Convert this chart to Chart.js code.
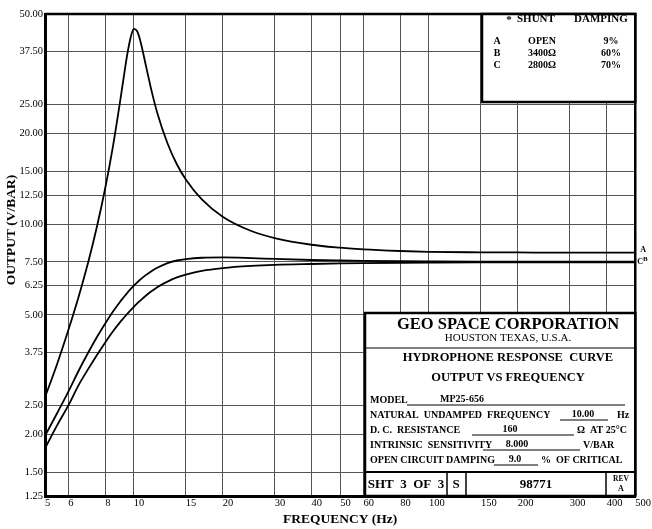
<!DOCTYPE html>
<html>
<head>
<meta charset="utf-8">
<script src="https://cdn.jsdelivr.net/npm/chart.js@4.4.0/dist/chart.umd.min.js"></script>
<style>
  html, body { margin: 0; padding: 0; background: #fff; }
</style>
</head>
<body>
<canvas id="myChart" width="652" height="529"></canvas>
<script>
// Frequencies (Hz) the curves were read at
const freqs = [5, 5.5, 6, 6.5, 7, 7.5, 8, 8.5, 9, 9.25, 9.5, 9.75, 10, 10.25, 10.5, 11, 11.5, 12, 13, 14, 15, 17, 20, 25, 30, 40, 50, 60, 80, 100, 150, 200, 300, 400, 500];

// Output (V/BAR) for each shunt setting
const outputA = [2.66, 3.44, 4.45, 5.74, 7.46, 9.83, 13.2, 18.2, 25.9, 31.0, 36.7, 41.7, 44.6, 43.9, 41.0, 33.5, 27.6, 23.5, 18.6, 15.8, 14.1, 12.1, 10.6, 9.5, 9.0, 8.55, 8.36, 8.25, 8.15, 8.10, 8.07, 8.06, 8.05, 8.05, 8.05];
const outputB = [1.98, 2.36, 2.78, 3.26, 3.74, 4.22, 4.68, 5.13, 5.54, 5.73, 5.92, 6.09, 6.25, 6.40, 6.54, 6.79, 7.00, 7.17, 7.43, 7.58, 7.66, 7.74, 7.76, 7.72, 7.67, 7.61, 7.58, 7.56, 7.54, 7.53, 7.52, 7.52, 7.52, 7.52, 7.52];
const outputC = [1.80, 2.15, 2.50, 2.92, 3.30, 3.68, 4.05, 4.41, 4.74, 4.89, 5.04, 5.18, 5.32, 5.45, 5.57, 5.80, 6.00, 6.18, 6.45, 6.66, 6.80, 7.00, 7.15, 7.27, 7.33, 7.38, 7.41, 7.43, 7.45, 7.46, 7.47, 7.47, 7.47, 7.47, 7.47];

// Tick labels
const xTicks = [5, 6, 8, 10, 15, 20, 30, 40, 50, 60, 80, 100, 150, 200, 300, 400, 500];
const yTicks = [1.25, 1.5, 2, 2.5, 3.75, 5, 6.25, 7.5, 10, 12.5, 15, 20, 25, 37.5, 50];

const serif = 'Liberation Serif';

function toPoints(values) {
    return freqs.map((f, i) => ({ x: f, y: values[i] }));
}

function curve(label, values) {
    return {
        label: label,
        data: toPoints(values),
        borderColor: '#000',
        borderWidth: 1.8,
        pointRadius: 0,
        fill: false,
        cubicInterpolationMode: 'monotone'
    };
}

// Draws the boxes, titles and the title block on top of the plot
const sheetPlugin = {
    id: 'sheet',
    beforeDraw(chart) {
        const c = chart.ctx;
        c.save();
        c.fillStyle = '#fff';
        c.fillRect(0, 0, chart.width, chart.height);
        c.restore();
    },
    afterDraw(chart) {
        const c = chart.ctx;
        const a = chart.chartArea;
        c.save();
        c.fillStyle = '#000';
        c.strokeStyle = '#000';

        // top and right border of plot
        c.lineWidth = 2.5;
        c.beginPath();
        c.moveTo(a.left, a.top);
        c.lineTo(a.right, a.top);
        c.lineTo(a.right, a.bottom);
        c.stroke();

        function text(str, x, y, size, bold, align) {
            c.font = (bold ? 'bold ' : '') + size + 'px "' + serif + '"';
            c.textAlign = align || 'center';
            c.textBaseline = 'middle';
            c.fillText(str, x, y);
        }
        function line(x1, y1, x2, y2, w) {
            c.lineWidth = w;
            c.beginPath();
            c.moveTo(x1, y1);
            c.lineTo(x2, y2);
            c.stroke();
        }
        function box(x1, y1, x2, y2, w) {
            c.fillStyle = '#fff';
            c.fillRect(x1, y1, x2 - x1, y2 - y1);
            c.fillStyle = '#000';
            c.lineWidth = w;
            c.strokeRect(x1, y1, x2 - x1, y2 - y1);
        }

        // axis titles
        text('FREQUENCY (Hz)', (a.left + a.right) / 2, 520, 13.5, true);
        c.save();
        c.translate(12, 230);
        c.rotate(-Math.PI / 2);
        text('OUTPUT (V/BAR)', 0, 0, 13.5, true);
        c.restore();

        // curve end labels
        text('A', a.right + 8, 250, 8, true);
        text('C', a.right + 5, 262, 8, true);
        text('B', a.right + 10, 259, 7, true);

        // shunt / damping legend box
        box(482, a.top, a.right, 102, 2.5);
        text('*', 509, 20, 11, true);
        text('SHUNT', 517, 19, 11, true, 'left');
        text('DAMPING', 574, 19, 11, true, 'left');
        const rows = [['A', 'OPEN', '9%'], ['B', '3400\u03A9', '60%'], ['C', '2800\u03A9', '70%']];
        rows.forEach((r, i) => {
            const y = 41 + i * 12;
            text(r[0], 497, y, 10, true);
            text(r[1], 542, y, 10, true);
            text(r[2], 611, y, 10, true);
        });

        // title block
        box(365, 313, a.right, a.bottom, 2.5);
        text('GEO SPACE CORPORATION', 508, 325, 16.5, true);
        text('HOUSTON TEXAS, U.S.A.', 508, 338, 11, false);
        line(366, 348, a.right, 348, 1);
        text('HYDROPHONE RESPONSE  CURVE', 508, 358, 12.5, true);
        text('OUTPUT VS FREQUENCY', 508, 378, 12.5, true);

        const lx = 370;
        const fs = 10;
        text('MODEL', lx, 400, fs, true, 'left');
        line(407, 405, 625, 405, 1);
        text('MP25-656', 440, 399, fs, true, 'left');

        text('NATURAL  UNDAMPED  FREQUENCY', lx, 415, fs, true, 'left');
        line(560, 420, 608, 420, 1);
        text('10.00', 583, 414, fs, true);
        text('Hz', 617, 415, fs, true, 'left');

        text('D. C.  RESISTANCE', lx, 430, fs, true, 'left');
        line(472, 435, 574, 435, 1);
        text('160', 510, 429, fs, true);
        text('\u03A9  AT 25\u00B0C', 577, 430, fs, true, 'left');

        text('INTRINSIC  SENSITIVITY', lx, 445, fs, true, 'left');
        line(483, 450, 580, 450, 1);
        text('8.000', 517, 444, fs, true);
        text('V/BAR', 583, 445, fs, true, 'left');

        text('OPEN CIRCUIT DAMPING', lx, 460, fs, true, 'left');
        line(494, 465, 538, 465, 1);
        text('9.0', 515, 459, fs, true);
        text('%  OF CRITICAL', 541, 460, fs, true, 'left');

        line(365, 472, a.right, 472, 2);
        line(447, 472, 447, a.bottom, 1.5);
        line(466, 472, 466, a.bottom, 1.5);
        line(606, 472, 606, a.bottom, 1.5);
        text('SHT  3  OF  3', 406, 485, 13, true);
        text('S', 456, 485, 13, true);
        text('98771', 536, 485, 13, true);
        text('REV', 621, 479, 7.5, true);
        text('A', 621, 489, 8, true);

        c.restore();
    }
};

const ctx = document.getElementById('myChart').getContext('2d');
new Chart(ctx, {
    type: 'line',
    data: {
        datasets: [
            curve('A', outputA),
            curve('B', outputB),
            curve('C', outputC)
        ]
    },
    options: {
        responsive: false,
        animation: false,
        layout: { padding: { top: 14, right: 16, left: 0, bottom: 0 } },
        plugins: {
            legend: { display: false },
            tooltip: { enabled: false }
        },
        scales: {
            x: {
                type: 'logarithmic',
                min: 5,
                max: 500,
                afterBuildTicks: scale => { scale.ticks = xTicks.map(v => ({ value: v })); },
                afterFit: scale => { scale.height = 33; },
                ticks: {
                    autoSkip: false,
                    maxRotation: 0,
                    align: 'start',
                    padding: 1,
                    color: '#000',
                    font: { family: serif, size: 10.5 },
                    callback: v => String(v)
                },
                grid: { color: '#555', lineWidth: 1, drawTicks: false },
                border: { display: true, color: '#000', width: 3 }
            },
            y: {
                type: 'logarithmic',
                min: 1.25,
                max: 50,
                afterBuildTicks: scale => { scale.ticks = yTicks.map(v => ({ value: v })); },
                afterFit: scale => { scale.width = 45; },
                ticks: {
                    autoSkip: false,
                    padding: 2,
                    color: '#000',
                    font: { family: serif, size: 10.5 },
                    callback: v => Number(v).toFixed(2)
                },
                grid: { color: '#555', lineWidth: 1, drawTicks: false },
                border: { display: true, color: '#000', width: 3 }
            }
        }
    },
    plugins: [sheetPlugin]
});
</script>
</body>
</html>
